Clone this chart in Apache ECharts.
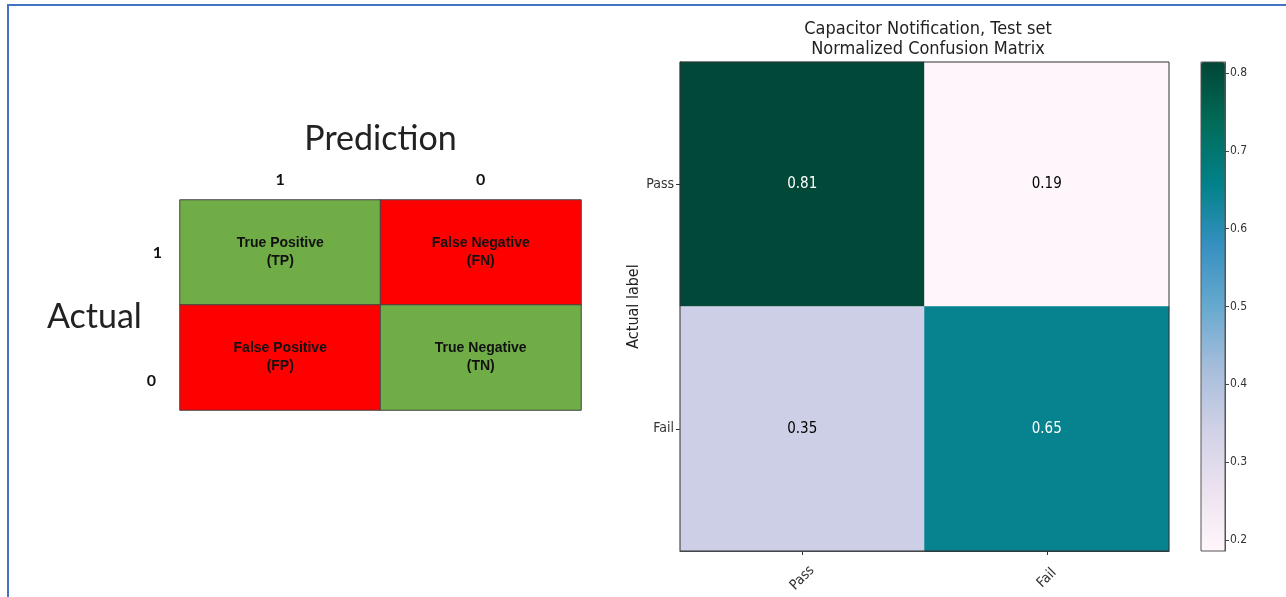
<!DOCTYPE html>
<html>
<head>
<meta charset="utf-8">
<script src="https://cdn.jsdelivr.net/npm/echarts@6/dist/echarts.min.js"></script>
<style>
html,body{margin:0;padding:0;background:#fff;}
#c{width:1286px;height:597px;}
</style>
</head>
<body>
<div id="c"></div>
<script>
// ---- Left: conceptual confusion matrix ----
const conceptCols = ['1', '0'];
const conceptRows = ['1', '0'];
const conceptLabels = [
  ['True Positive\n(TP)', 'False Negative\n(FN)'],
  ['False Positive\n(FP)', 'True Negative\n(TN)']
];
const conceptCorrect = [
  [1, 0],
  [0, 1]
];

// ---- Right: normalized confusion matrix ----
const classNames = ['Pass', 'Fail'];
const cmValues = [
  [0.81, 0.19],
  [0.35, 0.65]
];
const cmMin = 0.186;
const cmMax = 0.814;
const colorbarTicks = [0.2, 0.3, 0.4, 0.5, 0.6, 0.7, 0.8];
const titleLines = ['Capacitor Notification, Test set', 'Normalized Confusion Matrix'];

const conceptData = [];
conceptRows.forEach((r, i) => conceptCols.forEach((c, j) => {
  conceptData.push({ value: [j, i, conceptCorrect[i][j]], label: { formatter: conceptLabels[i][j] } });
}));
const cmData = [];
classNames.forEach((r, i) => classNames.forEach((c, j) => {
  cmData.push({ value: [j, i, cmValues[i][j]],
    label: { color: cmValues[i][j] > (cmMax + cmMin) / 2 ? '#ffffff' : '#000000' } });
}));

const PuBuGn = ['#fff7fb', '#ece2f0', '#d0d1e6', '#a6bddb', '#67a9cf', '#3690c0', '#02818a', '#016c59', '#014636'];
const tickFont = 'DejaVu Sans Condensed, Liberation Sans Narrow, DejaVu Sans, sans-serif';

const chart = echarts.init(document.getElementById('c'));
chart.setOption({
  animation: false,
  backgroundColor: '#ffffff',
  title: {
    text: titleLines.join('\n'),
    left: 923, top: 14, textAlign: 'center',
    textStyle: { fontFamily: tickFont, fontSize: 18, fontWeight: 'normal', color: '#222', lineHeight: 20 }
  },
  graphic: [
    { type: 'polyline', shape: { points: [[8, 600], [8, 5], [1290, 5]] },
      style: { stroke: '#4472C4', lineWidth: 2, fill: null }, silent: true }
  ],
  grid: [
    { left: 180, top: 200, width: 401, height: 210 },
    { left: 680, top: 62, width: 489, height: 489, show: true, borderColor: '#333', borderWidth: 1, z: 5 },
    { left: 1201, top: 62, width: 24, height: 489, show: true, borderColor: '#555', borderWidth: 1, z: 5 }
  ],
  xAxis: [
    { gridIndex: 0, type: 'category', data: conceptCols, position: 'top',
      axisLine: { show: false }, axisTick: { show: false }, splitLine: { show: false },
      axisLabel: { fontSize: 16, fontWeight: 'bold', color: '#111', margin: 12, fontFamily: 'Lato, sans-serif' },
      name: 'Prediction', nameLocation: 'middle', nameGap: 44,
      nameTextStyle: { fontSize: 34, color: '#222', fontFamily: 'Lato, sans-serif' } },
    { gridIndex: 1, type: 'category', data: classNames, position: 'bottom',
      axisLine: { show: true, lineStyle: { color: '#333' } },
      axisTick: { show: true, alignWithLabel: true, length: 4, lineStyle: { color: '#333' } },
      splitLine: { show: false }, splitArea: { show: false },
      axisLabel: { rotate: 45, fontSize: 14, color: '#333', margin: 27, align: 'center', verticalAlign: 'middle',
        fontFamily: tickFont } },
    { gridIndex: 2, type: 'value', min: 0, max: 1, show: false }
  ],
  yAxis: [
    { gridIndex: 0, type: 'category', inverse: true, data: conceptRows,
      axisLine: { show: false }, axisTick: { show: false }, splitLine: { show: false },
      axisLabel: { fontSize: 16, fontWeight: 'bold', color: '#111', margin: 18, fontFamily: 'Lato, sans-serif',
        formatter: (v, i) => i === 1 ? '{low|' + v + '}' : v,
        rich: { low: { fontSize: 16, fontWeight: 'bold', color: '#111', fontFamily: 'Lato, sans-serif',
          padding: [46, 6, 0, 0] } } },
      name: '{a|Actual}', nameLocation: 'middle', nameGap: 32, nameRotate: 0,
      nameTextStyle: { rich: { a: { fontSize: 34, color: '#222', fontFamily: 'Lato, sans-serif',
        padding: [24, 0, 0, 0] } } } },
    { gridIndex: 1, type: 'category', data: classNames, inverse: true,
      axisLine: { show: true, lineStyle: { color: '#333' } },
      axisTick: { show: true, alignWithLabel: true, length: 4, lineStyle: { color: '#333' } },
      splitLine: { show: false }, splitArea: { show: false },
      axisLabel: { fontSize: 14, color: '#333', margin: 6, fontFamily: tickFont },
      name: 'Actual label', nameLocation: 'middle', nameGap: 38,
      nameTextStyle: { fontSize: 16, color: '#222', fontFamily: tickFont } },
    { gridIndex: 2, type: 'value', min: cmMin, max: cmMax, position: 'right', z: 10,
      axisLine: { show: true, onZero: false, lineStyle: { color: '#555' } },
      axisTick: { show: true, inside: false, length: 4, customValues: colorbarTicks, lineStyle: { color: '#444' } },
      axisLabel: { fontSize: 12, color: '#333', margin: 5, customValues: colorbarTicks, fontFamily: tickFont,
        formatter: v => v.toFixed(1) },
      splitLine: { show: false } }
  ],
  visualMap: [
    { type: 'piecewise', show: false, seriesIndex: 0, dimension: 2,
      pieces: [{ value: 1, color: '#70AD47' }, { value: 0, color: '#FF0000' }] },
    { type: 'continuous', seriesIndex: 1, dimension: 2, min: cmMin, max: cmMax,
      inRange: { color: PuBuGn }, calculable: false, show: true,
      left: 1201, top: 62, itemWidth: 24, itemHeight: 489, padding: 0, text: null,
      showLabel: false, hoverLink: false, realtime: false, z: 1 }
  ],
  series: [
    { type: 'heatmap', xAxisIndex: 0, yAxisIndex: 0, data: conceptData,
      itemStyle: { borderColor: '#444', borderWidth: 1 },
      label: { show: true, fontSize: 14, fontWeight: 'bold', color: '#111', lineHeight: 18,
        fontFamily: 'Liberation Sans, Arial, sans-serif' },
      emphasis: { disabled: true } },
    { type: 'heatmap', xAxisIndex: 1, yAxisIndex: 1, data: cmData,
      label: { show: true, fontSize: 15, fontFamily: tickFont, formatter: p => p.value[2].toFixed(2) },
      emphasis: { disabled: true } }
  ]
});
</script>
</body>
</html>
